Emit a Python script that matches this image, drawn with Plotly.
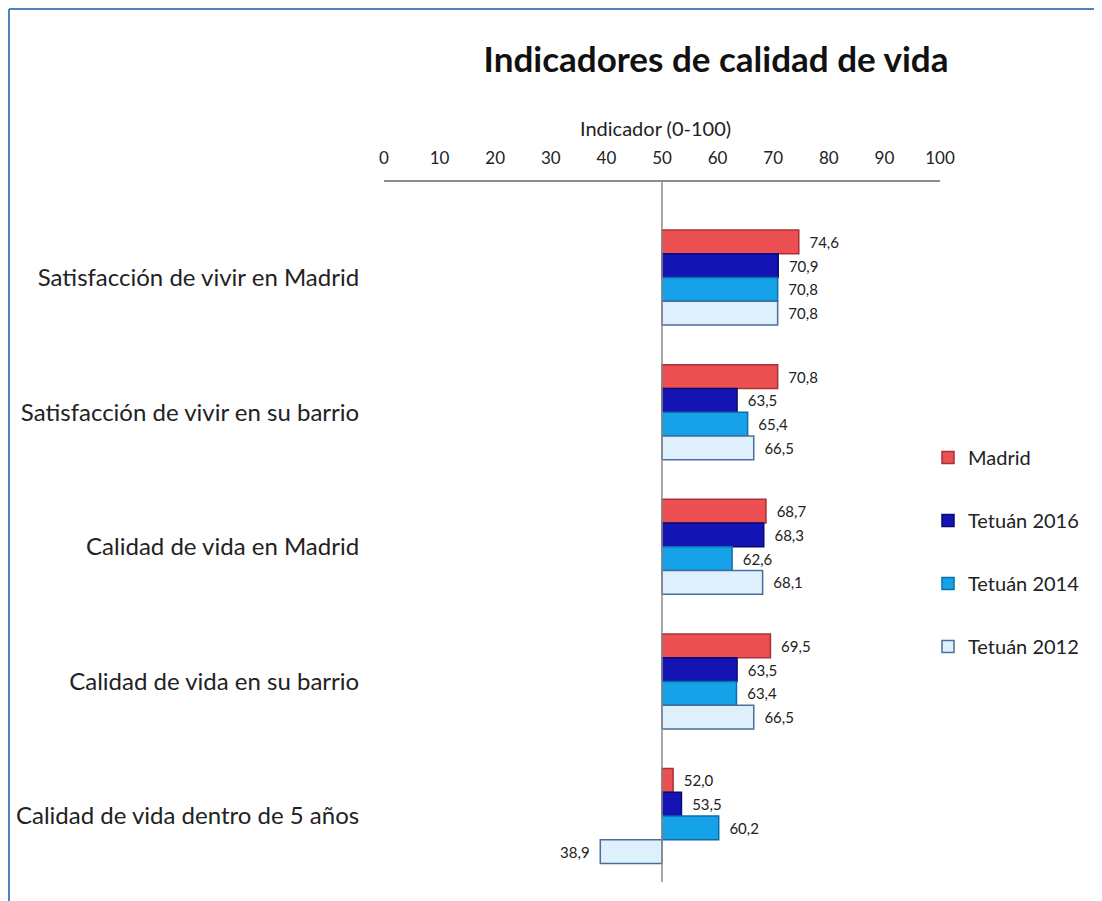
import plotly.graph_objects as go

categories = [
    "Satisfacción de vivir en Madrid",
    "Satisfacción de vivir en su barrio",
    "Calidad de vida en Madrid",
    "Calidad de vida en su barrio",
    "Calidad de vida dentro de 5 años",
]
series_names = ["Madrid", "Tetuán 2016", "Tetuán 2014", "Tetuán 2012"]
madrid = [74.6, 70.8, 68.7, 69.5, 52.0]
tetuan_2016 = [70.9, 63.5, 68.3, 63.5, 53.5]
tetuan_2014 = [70.8, 65.4, 62.6, 63.4, 60.2]
tetuan_2012 = [70.8, 66.5, 68.1, 66.5, 38.9]
x_ticks = [0, 10, 20, 30, 40, 50, 60, 70, 80, 90, 100]
base_value = 50

fills = ["#EC5052", "#1414B4", "#16A2E8", "#DDF0FB"]
outlines = ["#A83235", "#0A0A70", "#0A6FA8", "#4A6E9E"]
series = [madrid, tetuan_2016, tetuan_2014, tetuan_2012]

FONT = "Lato"

fig = go.Figure()
for name, vals, fc, lc in zip(series_names, series, fills, outlines):
    fig.add_trace(go.Bar(
        name=name,
        y=categories,
        x=[v - base_value for v in vals],
        base=base_value,
        orientation="h",
        marker=dict(color=fc, line=dict(color=lc, width=1.5)),
        text=["  " + f"{v:.1f}".replace(".", ",") + "  " for v in vals],
        textposition="outside",
        textfont=dict(family=FONT, size=15, color="#222222"),
        cliponaxis=False,
        legendgroup=name,
        hovertemplate="%{y}: %{text}<extra>" + name + "</extra>",
    ))

OFF = 8  # page body margin
W, H = 1102, 901
Ls, Rs, Ts, Bs = 384, 940, 182, 882  # plot area in screen px

def px_x(p):
    return (p - Ls) / (Rs - Ls)

def px_y(p):
    return (Bs - p) / (Bs - Ts)

shapes = [
    dict(type="line", xref="x", yref="paper", x0=base_value, x1=base_value, y0=0, y1=1,
         line=dict(color="#8C8C8C", width=1.5)),
    dict(type="line", xref="paper", yref="paper", x0=px_x(9), x1=px_x(W + 20), y0=px_y(9), y1=px_y(9),
         line=dict(color="#4F81BD", width=2)),
    dict(type="line", xref="paper", yref="paper", x0=px_x(9), x1=px_x(9), y0=px_y(9), y1=px_y(H + 20),
         line=dict(color="#4F81BD", width=2)),
]

fig.update_layout(
    width=W, height=H,
    margin=dict(l=Ls - OFF, r=W - (Rs - OFF), t=Ts - OFF, b=H - (Bs - OFF), autoexpand=False),
    paper_bgcolor="white", plot_bgcolor="white",
    barmode="group",
    bargap=0.295, bargroupgap=0,
    font=dict(family=FONT, color="#222222"),
    title=dict(text="<b>Indicadores de calidad de vida</b>", xref="paper", x=px_x(716),
               xanchor="center", yref="container", y=1 - (60 - OFF) / H, yanchor="middle",
               font=dict(family=FONT, size=35, color="#111111")),
    xaxis=dict(side="top", range=[0, 100], tickvals=x_ticks, showgrid=False, zeroline=False,
               showline=True, linecolor="#8C8C8C", linewidth=1.5, automargin=False,
               ticks="outside", ticklen=9, tickcolor="rgba(0,0,0,0)",
               tickfont=dict(family=FONT, size=17, color="#222222")),
    yaxis=dict(categoryorder="array", categoryarray=categories, automargin=False,
               range=[4.49, -0.71], showgrid=False, zeroline=False, showline=False,
               ticks="outside", ticklen=19, tickcolor="rgba(0,0,0,0)",
               tickfont=dict(family=FONT, size=24, color="#222222")),
    legend=dict(x=px_x(928), xanchor="left", y=px_y(438), yanchor="top",
                font=dict(family=FONT, size=20, color="#222222"),
                tracegroupgap=34, itemwidth=30, bgcolor="rgba(0,0,0,0)"),
    annotations=[dict(text="Indicador (0-100)", xref="paper", yref="paper", x=px_x(655), y=px_y(128),
                      xanchor="center", yanchor="middle", showarrow=False,
                      font=dict(family=FONT, size=20, color="#222222"))],
    shapes=shapes,
)

fig.write_html("out.html")
